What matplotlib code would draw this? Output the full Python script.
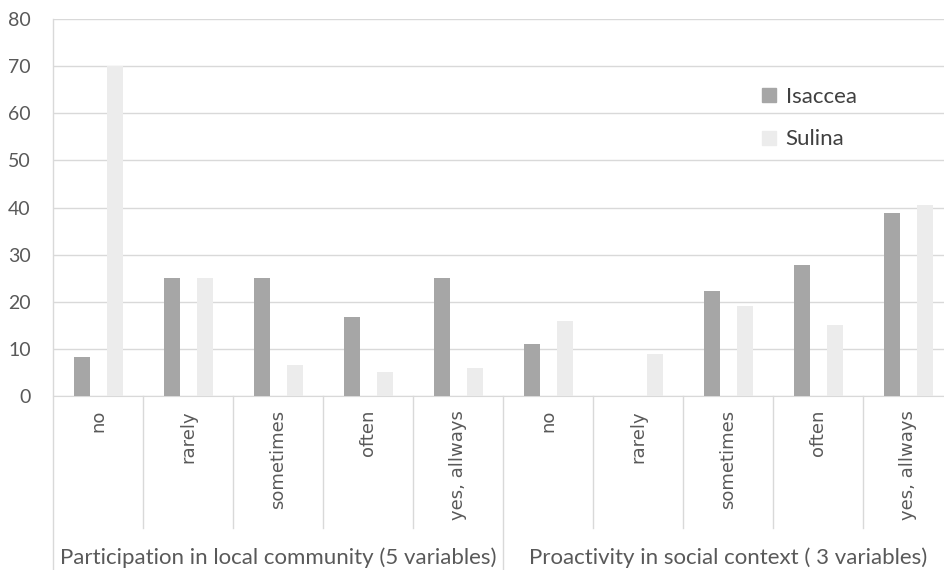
import matplotlib
matplotlib.use("Agg")
import matplotlib.pyplot as plt
import numpy as np
from matplotlib.patches import Patch

# answers per category, two towns
categories = ["no", "rarely", "sometimes", "often", "yes, allways",
              "no", "rarely", "sometimes", "often", "yes, allways"]
groups = ["Participation in local community (5 variables)",
          "Proactivity in social context ( 3 variables)"]
isaccea = [8.3, 25, 25, 16.7, 25, 11.1, 0, 22.2, 27.8, 38.9]
sulina = [70, 25, 6.5, 5, 6, 16, 9, 19, 15, 40.6]

c_isaccea = "#a6a6a6"
c_sulina = "#ececec"
grid_c = "#d9d9d9"
text_c = "#595959"

fig = plt.figure(figsize=(9.45, 5.7), dpi=100)
ax = fig.add_axes([53 / 945, 174 / 570, 900 / 945, 377 / 570])

x = np.arange(len(categories))
ax.bar(x - 0.18, isaccea, width=0.18, color=c_isaccea, zorder=3)
ax.bar(x + 0.19, sulina, width=0.18, color=c_sulina, zorder=3)

ax.set_xlim(-0.5, len(categories) - 0.5)
ax.set_ylim(0, 80)
ax.set_yticks(range(0, 81, 10))
ax.yaxis.grid(True, color=grid_c, linewidth=1, zorder=0)
ax.set_axisbelow(True)
for s in ["top", "right", "left"]:
    ax.spines[s].set_visible(False)
ax.spines["bottom"].set_color(grid_c)

ax.tick_params(axis="y", length=0, pad=16, labelsize=14, labelcolor=text_c)
for lab in ax.get_yticklabels():
    lab.set_fontfamily("Lato")
ax.set_xticks(x)
ax.set_xticklabels(categories, rotation=90, fontsize=13, color=text_c,
                   fontfamily="DejaVu Sans")
ax.tick_params(axis="x", length=0, pad=10)

# separators below the axis
tr = ax.get_xaxis_transform()
for k in range(len(categories) + 1):
    xb = k - 0.5
    low = -0.47 if k in (0, 5) else -0.35
    top = 1 if k == 0 else 0
    ax.plot([xb, xb], [top, low], color=grid_c, lw=1, transform=tr,
            clip_on=False, zorder=1)

for i, g in enumerate(groups):
    ax.text(2 + 5 * i, -0.43, g, transform=tr, ha="center", va="center",
            fontsize=16, color=text_c, fontfamily="Lato")

handles = [Patch(color=c_isaccea, label="Isaccea"),
           Patch(color=c_sulina, label="Sulina")]
leg = ax.legend(handles=handles, loc="upper left", bbox_to_anchor=(0.766, 0.872),
                frameon=False, handlelength=0.6, handleheight=0.6,
                handletextpad=0.45, labelspacing=1.0,
                prop={"family": "Lato", "size": 16})
for t in leg.get_texts():
    t.set_color("#404040")

fig.savefig("out.png", dpi=100)
